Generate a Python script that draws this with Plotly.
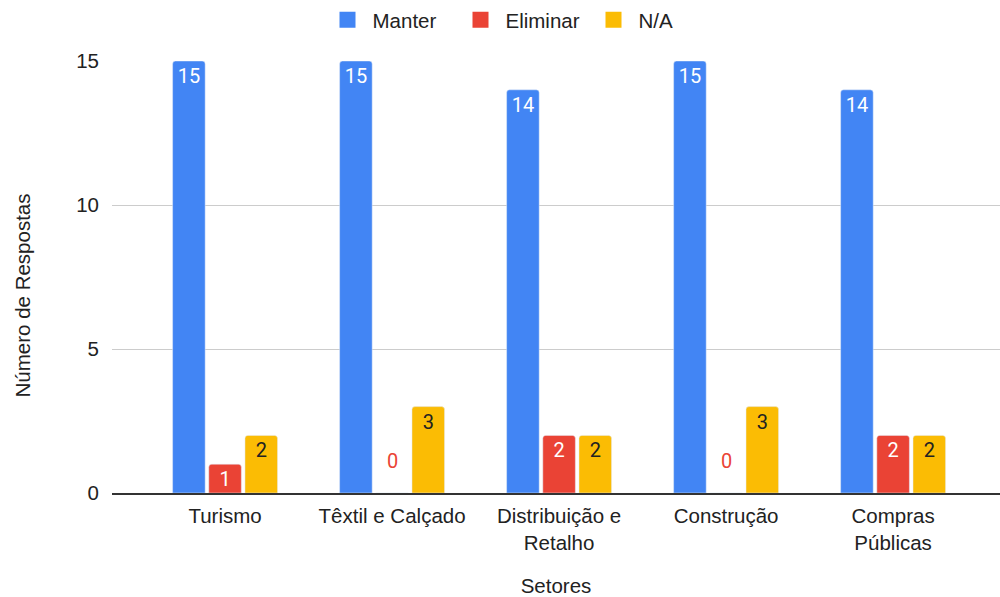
import plotly.graph_objects as go

categories = ["Turismo", "Têxtil e Calçado", "Distribuição e<br>Retalho", "Construção", "Compras<br>Públicas"]
manter = [15, 15, 14, 15, 14]
eliminar = [1, 0, 2, 0, 2]
na = [2, 3, 2, 3, 2]

series = [
    ("Manter", manter, "#4285F4", "white"),
    ("Eliminar", eliminar, "#EA4335", "white"),
    ("N/A", na, "#FBBC04", "#222222"),
]

LABEL_FONT = "Roboto, Arial, sans-serif"
FONT = "Liberation Sans, Arial, sans-serif"
FS = 20.5
fig = go.Figure()
for name, vals, color, tcolor in series:
    fig.add_trace(go.Bar(
        name=name, x=categories, y=vals, marker_color=color,
        text=[str(v) if v != 0 else "" for v in vals],
        textposition="inside", insidetextanchor="end", constraintext="none",
        textfont=dict(family=LABEL_FONT, size=20, color=tcolor),
        textangle=0, showlegend=False,
    ))
    # legend entry with square marker
    fig.add_trace(go.Scatter(
        name=name, x=[None], y=[None], mode="markers",
        marker=dict(symbol="square", size=19, color=color),
        showlegend=True,
    ))

# zero-valued labels (shown above baseline in series colour)
names = [n for n, _, _, _ in series]
for name, vals, color, tcolor in series:
    idx = names.index(name)
    for i, v in enumerate(vals):
        if v == 0:
            fig.add_annotation(x=categories[i], y=v, text=str(v), showarrow=False,
                               xshift=(idx - 1) * 37, yshift=32,
                               font=dict(family=LABEL_FONT, size=20, color=color))

# y-axis title (centred on the chart height, as in the reference)
fig.add_annotation(text="Número de Respostas", xref="paper", yref="paper",
                   x=-0.101, y=0.458, textangle=-90, showarrow=False,
                   xanchor="center", yanchor="middle",
                   font=dict(family=FONT, size=FS, color="#222222"))

fig.update_layout(
    width=1000, height=597,
    margin=dict(l=112, r=0, t=61, b=104),
    paper_bgcolor="white", plot_bgcolor="white",
    barmode="group", bargap=0.35, bargroupgap=0.1,
    barcornerradius=3,
    font=dict(family=FONT, size=FS, color="#222222"),
    legend=dict(orientation="h", xref="container", x=0.522, xanchor="center",
                yref="container", y=1.0, yanchor="top",
                font=dict(family=FONT, size=FS, color="#222222"),
                itemwidth=40, entrywidth=78, entrywidthmode="pixels",
                traceorder="normal"),
    showlegend=True,
)
fig.update_xaxes(
    type="category", range=[-0.677, 4.64],
    tickfont=dict(family=FONT, size=FS, color="#222222"),
    ticks="", showgrid=False, ticklabelstandoff=4,
    showline=True, linecolor="#333333", linewidth=1.5,
    title=dict(text="Setores", font=dict(family=FONT, size=FS, color="#222222"), standoff=26),
)
fig.update_yaxes(
    range=[0, 15], tickvals=[0, 5, 10, 15],
    showgrid=True, gridcolor="#cccccc", gridwidth=1,
    zeroline=False, showline=False,
    ticks="", ticklabelstandoff=12,
    tickfont=dict(family=FONT, size=FS, color="#222222"),
)

fig.write_html("out.html")
